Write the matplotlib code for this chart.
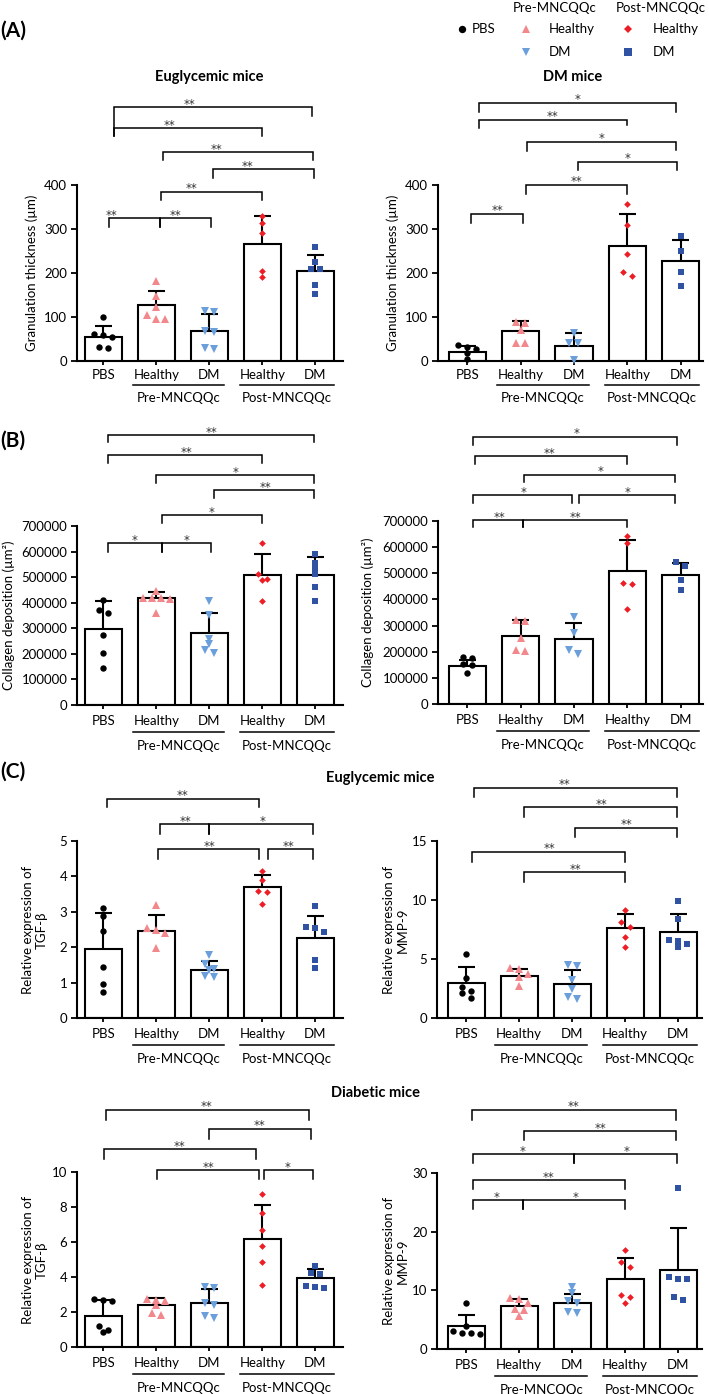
import numpy as np
import matplotlib
matplotlib.use('Agg')
import matplotlib.pyplot as plt
from matplotlib.lines import Line2D
from matplotlib.transforms import blended_transform_factory, ScaledTranslation

plt.rcParams['font.family'] = ['Lato', 'DejaVu Sans']

# ---------------- data ----------------
groups = ['PBS', 'Healthy', 'DM', 'Healthy', 'DM']
group_names = ['Pre-MNCQQc', 'Post-MNCQQc']

# (A) granulation thickness (um)
gran_eu_mean = [55, 127, 69, 267, 205]
gran_eu_sd = [25, 33, 37, 63, 37]
gran_eu_pts = [[100, 60, 62, 55, 30, 32], [182, 148, 123, 105, 95, 96],
               [114, 112, 68, 66, 30, 28], [330, 313, 290, 205, 191],
               [260, 225, 210, 209, 173, 152]]
gran_dm_mean = [21, 69, 34, 262, 227]
gran_dm_sd = [13, 23, 29, 71, 48]
gran_dm_pts = [[36, 31, 28, 19, 4], [88, 86, 70, 40, 42], [63, 40, 40, 3],
               [356, 310, 243, 203, 193], [285, 250, 203, 170]]

# (B) collagen deposition (um^2)
col_eu_mean = [296000, 417000, 280000, 510000, 510000]
col_eu_sd = [111000, 26000, 81000, 80000, 69000]
col_eu_pts = [[409000, 371000, 358000, 273000, 204000, 143000],
              [445000, 420000, 420000, 418000, 415000, 360000],
              [407000, 352000, 260000, 238000, 215000, 202000],
              [635000, 512000, 492000, 488000, 406000],
              [590000, 557000, 534000, 512000, 460000, 407000]]
col_dm_mean = [147000, 260000, 247000, 509000, 495000]
col_dm_sd = [22000, 63000, 63000, 120000, 46000]
col_dm_pts = [[180000, 176000, 152000, 150000, 117000],
              [322000, 318000, 251000, 202000, 205000],
              [331000, 270000, 206000, 191000],
              [643000, 614000, 463000, 458000, 362000],
              [543000, 528000, 473000, 435000]]

# (C) relative expression
tgf_eu_mean = [1.94, 2.46, 1.35, 3.69, 2.25]
tgf_eu_sd = [1.03, 0.44, 0.26, 0.34, 0.63]
tgf_eu_pts = [[3.12, 2.89, 2.46, 1.45, 0.96, 0.74], [3.18, 2.55, 2.5, 2.4, 1.97],
              [1.78, 1.52, 1.38, 1.36, 1.2, 1.17], [4.15, 3.89, 3.6, 3.56, 3.23],
              [3.17, 2.58, 2.55, 2.43, 1.64, 1.4]]
mmp_eu_mean = [2.99, 3.59, 2.85, 7.6, 7.31]
mmp_eu_sd = [1.31, 0.56, 1.22, 1.19, 1.49]
mmp_eu_pts = [[5.4, 3.4, 2.6, 2.3, 2.1, 1.7], [4.2, 4.15, 3.75, 3.45, 2.7],
              [4.45, 4.4, 3.2, 2.5, 1.75, 1.6], [9.15, 8.16, 7.74, 6.89, 6.04],
              [9.94, 8.36, 6.6, 6.55, 6.3, 6.05]]
tgf_dm_mean = [1.79, 2.4, 2.53, 6.2, 3.92]
tgf_dm_sd = [0.89, 0.38, 0.76, 1.9, 0.51]
tgf_dm_pts = [[2.75, 2.7, 2.65, 1.2, 0.95, 0.85], [2.75, 2.7, 2.65, 2.4, 1.95, 1.85],
              [3.45, 3.4, 2.5, 2.4, 1.8, 1.65], [8.73, 7.68, 6.67, 5.78, 4.87, 3.54],
              [4.65, 4.25, 4.15, 3.5, 3.45, 3.4]]
mmp_dm_mean = [3.84, 7.41, 7.81, 11.94, 13.47]
mmp_dm_sd = [1.99, 1.13, 1.58, 3.62, 7.08]
mmp_dm_pts = [[7.9, 4.0, 3.0, 2.7, 2.7, 2.6], [8.7, 8.5, 7.8, 6.8, 6.7, 5.7],
              [10.6, 9.6, 8.2, 7.9, 6.3, 6.1], [16.9, 14.8, 13.9, 9.2, 8.8, 7.9],
              [27.5, 12.3, 12.0, 11.9, 8.9, 8.3]]

# significance brackets: (x_left, x_right, level, left_leg_end, right_leg_end, label, label_x)
sig_gran_eu = [(0.2, 3.93, 577, 511, 557, '**', 1.63), (0.2, 3.0, 529, 511, 511, '**', 1.24),
               (1.12, 3.95, 474, 457, 457, '**', 2.14), (2.07, 3.97, 436, 416, 416, '**', 2.72),
               (1.08, 2.99, 385, 366, 366, '**', 1.67), (0.1, 1.07, 324, 305, 305, '**', 0.16),
               (1.07, 2.03, 324, 305, 305, '**', 1.35)]
sig_gran_dm = [(0.22, 3.91, 587, 565, 567, '*', 2.06), (0.22, 3.0, 548, 529, 536, '**', 1.6),
               (1.12, 3.91, 498, 478, 480, '*', 2.52), (2.07, 3.94, 453, 434, 434, '*', 3.0),
               (1.1, 3.0, 400, 380, 380, '**', 2.05), (0.07, 1.05, 334, 313, 313, '**', 0.56)]
sig_col_eu = [(0.09, 3.98, 10.55e5, 10.29e5, 10.29e5, '**', 2.04),
              (0.09, 3.0, 9.77e5, 9.48e5, 9.48e5, '**', 1.57),
              (1.0, 3.98, 8.98e5, 8.7e5, 8.7e5, '*', 2.5),
              (2.09, 3.98, 8.4e5, 8.1e5, 8.1e5, '**', 3.05),
              (1.1, 3.0, 7.42e5, 7.1e5, 7.1e5, '*', 2.04),
              (0.09, 1.1, 6.32e5, 5.99e5, 5.99e5, '*', 0.58),
              (1.1, 2.03, 6.32e5, 5.99e5, 5.99e5, '*', 1.56)]
sig_col_dm = [(0.11, 3.94, 10.21e5, 9.89e5, 9.9e5, '*', 2.04),
              (0.15, 2.99, 9.48e5, 9.19e5, 9.19e5, '**', 1.55),
              (1.07, 3.9, 8.77e5, 8.49e5, 8.49e5, '*', 2.49),
              (0.11, 1.96, 7.98e5, 7.69e5, 7.69e5, '*', 1.05),
              (2.09, 3.9, 7.98e5, 7.69e5, 7.69e5, '*', 3.0),
              (0.11, 1.05, 7.03e5, 6.77e5, 6.77e5, '**', 0.6),
              (1.05, 2.99, 7.03e5, 6.77e5, 6.77e5, '**', 2.02)]
sig_tgf_eu = [(0.06, 2.94, 6.2, 5.96, 5.96, '**', 1.5), (1.07, 1.99, 5.47, 5.21, 5.21, '**', 1.54),
              (1.99, 3.95, 5.47, 5.21, 5.21, '*', 3.0), (1.03, 2.94, 4.76, 4.5, 4.5, '**', 2.0),
              (3.1, 3.95, 4.76, 4.5, 4.5, '**', 3.5)]
sig_mmp_eu = [(0.15, 3.98, 19.52, 18.7, 18.7, '**', 1.85), (1.09, 3.98, 17.85, 17.06, 17.06, '**', 2.55),
              (2.06, 3.98, 16.13, 15.37, 15.37, '**', 3.02), (0.11, 3.0, 14.1, 13.25, 13.25, '**', 1.57),
              (1.09, 3.0, 12.35, 11.55, 11.55, '**', 2.06)]
sig_tgf_dm = [(0.05, 3.88, 13.56, 12.99, 12.99, '**', 1.95), (1.99, 3.92, 12.47, 11.9, 11.9, '**', 2.95),
              (0.01, 2.88, 11.3, 10.76, 10.76, '**', 1.44), (1.01, 2.93, 10.1, 9.58, 9.58, '**', 1.98),
              (3.03, 3.95, 10.1, 9.58, 9.58, '*', 3.48)]
sig_mmp_dm = [(0.11, 3.96, 40.77, 39.07, 39.07, '**', 2.03), (1.1, 3.96, 37.08, 35.55, 35.55, '**', 2.54),
              (0.13, 2.03, 33.17, 31.7, 31.7, '*', 1.07), (2.03, 3.98, 33.17, 31.7, 31.7, '*', 3.03),
              (0.12, 3.0, 28.76, 27.35, 27.35, '**', 1.56), (0.12, 1.07, 25.36, 23.83, 23.83, '*', 0.58),
              (1.07, 3.0, 25.36, 23.83, 23.83, '*', 2.06)]

# ---------------- styling ----------------
W, H = 709, 1394
DPI = 100
fig = plt.figure(figsize=(W / DPI, H / DPI), dpi=DPI)
fig.patch.set_facecolor('white')

styles = [('o', '#000000', 4.6), ('^', '#F2878C', 5.2), ('v', '#6A9FDB', 5.2),
          ('D', '#EE1C24', 3.4), ('s', '#2F52A3', 4.6)]
FS = 9.5


def fx(px):
    return px / W


def fy(py):
    return 1 - py / H


def ftext(x, y, s, **kw):
    fig.text(fx(x), fy(y), s, **kw)


def swarm(vals, ppu_y, ppu_x, D=9.0, thr=5.5):
    order = sorted(range(len(vals)), key=lambda k: -vals[k])
    rows = []
    for k in order:
        if rows and abs(vals[rows[-1][0]] - vals[k]) * ppu_y < thr:
            rows[-1].append(k)
        else:
            rows.append([k])
    offs = [0.0] * len(vals)
    for row in rows:
        n = len(row)
        for j, k in enumerate(row):
            offs[k] = (j - (n - 1) / 2) * D / ppu_x
    return offs


def panel(box, xlim, ymax, yticks, means, sds, pts, sigs, lab_off):
    L, R, T, B = box
    ax = fig.add_axes([fx(L), fy(B), (R - L) / W, (B - T) / H])
    ax.set_xlim(*xlim)
    ax.set_ylim(0, ymax)
    ppu_x = (R - L) / (xlim[1] - xlim[0])
    ppu_y = (B - T) / ymax
    x = np.arange(len(means))
    ax.bar(x, means, width=0.7, color='white', edgecolor='black', linewidth=1.5, zorder=2)
    for i in range(len(means)):
        ax.plot([i, i], [means[i], means[i] + sds[i]], color='black', lw=1.5, zorder=3,
                solid_capstyle='butt')
        ax.plot([i - 0.16, i + 0.16], [means[i] + sds[i]] * 2, color='black', lw=1.5, zorder=3,
                solid_capstyle='butt')
        mk, col, ms = styles[i]
        offs = swarm(pts[i], ppu_y, ppu_x)
        ax.plot(np.array(offs) + i, pts[i], linestyle='none', marker=mk, color=col,
                markersize=ms, markeredgewidth=0, zorder=4, clip_on=False)
    for (x0, x1, lv, yl, yr, lab, lx) in sigs:
        ax.plot([x0, x0, x1, x1], [yl, lv, lv, yr], color='black', lw=1.1, clip_on=False,
                solid_joinstyle='miter', zorder=5)
        ax.annotate(lab, (lx, lv), xytext=(0, -0.3), textcoords='offset points', ha='center',
                    va='baseline', fontsize=8.5, family='DejaVu Sans', color='#333333',
                    annotation_clip=False)
    for side in ['top', 'right']:
        ax.spines[side].set_visible(False)
    for side in ['left', 'bottom']:
        ax.spines[side].set_linewidth(1.5)
    ax.set_yticks(yticks)
    ax.set_yticklabels([str(int(v)) for v in yticks], fontsize=FS)
    ax.tick_params(axis='y', direction='out', length=4.5, width=1.3, pad=2.5)
    ax.set_xticks(x)
    ax.set_xticklabels([])
    ax.tick_params(axis='x', direction='out', length=3, width=1.3)
    ax.patch.set_alpha(0)
    d1, d2, d3 = lab_off

    def tr(dy):
        return blended_transform_factory(ax.transData, ax.transAxes) + \
            ScaledTranslation(0, -dy / DPI, fig.dpi_scale_trans)
    for i, g in enumerate(groups):
        ax.text(i, 0, g, transform=tr(d1), ha='center', va='center', fontsize=FS)
    for (a, b), name in zip([(0.55, 2.28), (2.58, 4.35)], group_names):
        ax.add_line(Line2D([a, b], [0, 0], transform=tr(d2), color='black', lw=1.1,
                           clip_on=False))
        ax.text((a + b) / 2, 0, name, transform=tr(d3), ha='center', va='center', fontsize=FS)
    return ax


A_off = (14, 23.5, 36.5)
O_off = (16, 26.5, 41)

panel((77, 343, 185, 361), (-0.5, 4.52), 400, [0, 100, 200, 300, 400],
      gran_eu_mean, gran_eu_sd, gran_eu_pts, sig_gran_eu, A_off)
panel((438, 703, 185, 361), (-0.55, 4.42), 400, [0, 100, 200, 300, 400],
      gran_dm_mean, gran_dm_sd, gran_dm_pts, sig_gran_dm, A_off)
panel((77, 343, 526, 705), (-0.5, 4.52), 700000, list(range(0, 700001, 100000)),
      col_eu_mean, col_eu_sd, col_eu_pts, sig_col_eu, O_off)
panel((438, 703, 521, 704), (-0.55, 4.42), 700000, list(range(0, 700001, 100000)),
      col_dm_mean, col_dm_sd, col_dm_pts, sig_col_dm, O_off)
panel((77, 343, 841, 1018), (-0.5, 4.52), 5, [0, 1, 2, 3, 4, 5],
      tgf_eu_mean, tgf_eu_sd, tgf_eu_pts, sig_tgf_eu, O_off)
panel((437, 702, 841, 1018), (-0.55, 4.45), 15, [0, 5, 10, 15],
      mmp_eu_mean, mmp_eu_sd, mmp_eu_pts, sig_mmp_eu, O_off)
panel((77, 343, 1172, 1347), (-0.5, 4.52), 10, [0, 2, 4, 6, 8, 10],
      tgf_dm_mean, tgf_dm_sd, tgf_dm_pts, sig_tgf_dm, O_off)
panel((437, 702, 1173, 1349), (-0.55, 4.45), 30, [0, 10, 20, 30],
      mmp_dm_mean, mmp_dm_sd, mmp_dm_pts, sig_mmp_dm, O_off)

# y-axis labels
ylab = dict(rotation=90, ha='center', va='center', fontsize=FS, multialignment='center')
ftext(32, 273, 'Granulation thickness (µm)', **ylab)
ftext(393, 273, 'Granulation thickness (µm)', **ylab)
ftext(9, 615, 'Collagen deposition (µm²)', **ylab)
ftext(368, 612, 'Collagen deposition (µm²)', **ylab)
ftext(35, 930, 'Relative expression of\nTGF-β', **ylab)
ftext(396, 930, 'Relative expression of\nMMP-9', **ylab)
ftext(35, 1260, 'Relative expression of\nTGF-β', **ylab)
ftext(396, 1261, 'Relative expression of\nMMP-9', **ylab)

# titles
ttl = dict(ha='center', va='center', fontsize=10.5, fontweight='bold')
ftext(209, 77, 'Euglycemic mice', **ttl)
ftext(573, 77, 'DM mice', **ttl)
ftext(380, 778, 'Euglycemic mice', **ttl)
ftext(376, 1093, 'Diabetic mice', **ttl)

# panel letters
pl = dict(ha='left', va='center', fontsize=15, fontweight='bold')
ftext(0, 31, '(A)', **pl)
ftext(0, 441, '(B)', **pl)
ftext(0, 772, '(C)', **pl)


# legend
def fmark(x, y, i):
    mk, col, ms = styles[i]
    fig.add_artist(Line2D([fx(x)], [fy(y)], transform=fig.transFigure, marker=mk,
                          color=col, markersize=ms * 1.15, markeredgewidth=0, linestyle='none'))


lg = dict(ha='left', va='center', fontsize=FS)
fmark(462, 29, 0)
ftext(472, 29, 'PBS', **lg)
ftext(555, 8, 'Pre-MNCQQc', ha='center', va='center', fontsize=FS)
fmark(526, 29, 1)
ftext(549, 29, 'Healthy', **lg)
fmark(526, 52, 2)
ftext(549, 52, 'DM', **lg)
ftext(661, 8, 'Post-MNCQQc', ha='center', va='center', fontsize=FS)
fmark(628, 29, 3)
ftext(653, 29, 'Healthy', **lg)
fmark(628, 52, 4)
ftext(653, 52, 'DM', **lg)

fig.savefig('out.png', dpi=DPI, facecolor='white')
